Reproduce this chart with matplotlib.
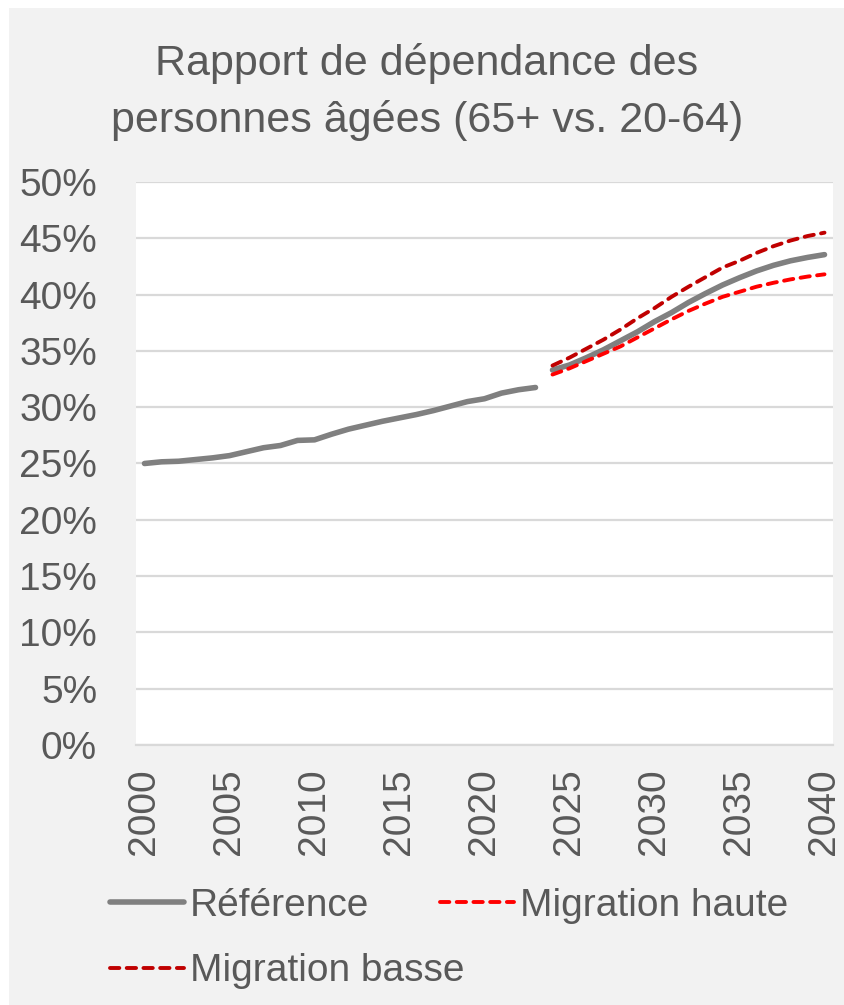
import matplotlib.pyplot as plt
from matplotlib.patches import Rectangle

# donnees (en %)
years_hist = list(range(2000, 2024))
ref_hist = [25.0, 25.15, 25.2, 25.35, 25.5, 25.7, 26.05, 26.4, 26.6, 27.05, 27.1,
            27.6, 28.05, 28.4, 28.75, 29.05, 29.35, 29.7, 30.1, 30.5, 30.75, 31.25,
            31.55, 31.75]

years_proj = list(range(2024, 2041))
ref_proj = [33.3, 33.75, 34.4, 35.1, 35.9, 36.7, 37.6, 38.4, 39.3, 40.1, 40.85,
            41.5, 42.1, 42.6, 43.0, 43.3, 43.55]
mig_haute = [32.9, 33.45, 34.1, 34.75, 35.4, 36.2, 37.0, 37.8, 38.55, 39.2, 39.8,
             40.25, 40.7, 41.05, 41.35, 41.6, 41.8]
mig_basse = [33.7, 34.4, 35.2, 36.0, 36.9, 37.9, 38.8, 39.8, 40.7, 41.55, 42.4,
             43.0, 43.7, 44.3, 44.8, 45.2, 45.5]

title = "Rapport de dépendance des\npersonnes âgées (65+ vs. 20-64)"
gris_texte = '#595959'

plt.rcParams['font.family'] = ['Liberation Sans', 'DejaVu Sans']

fig = plt.figure(figsize=(8.45, 10.05), dpi=100)
fig.patch.set_facecolor('white')
fig.patches.append(Rectangle((9 / 845, 0), 1, 1 - 8 / 1005, transform=fig.transFigure,
                             facecolor='#f2f2f2', edgecolor='none', zorder=-10))

ax = fig.add_axes([136 / 845, 1 - 745 / 1005, 697 / 845, 563 / 1005])
ax.set_facecolor('white')

tirets = (0, (2.4, 1.9))
l_ref, = ax.plot(years_hist, ref_hist, color='#808080', lw=4, solid_capstyle='round', label='Référence')
ax.plot(years_proj, ref_proj, color='#808080', lw=4, solid_capstyle='round')
l_haute, = ax.plot(years_proj, mig_haute, color='#ff0000', lw=2.8, ls=tirets,
                   dash_capstyle='round', label='Migration haute')
l_basse, = ax.plot(years_proj, mig_basse, color='#c00000', lw=2.8, ls=tirets,
                   dash_capstyle='round', label='Migration basse')

ax.set_xlim(1999.5, 2040.5)
ax.set_ylim(0, 50)
ax.set_yticks(range(0, 51, 5))
ax.set_yticklabels([f'{v}%' for v in range(0, 51, 5)])
ax.set_xticks(range(2000, 2041, 5))
ax.set_xticklabels([str(y) for y in range(2000, 2041, 5)], rotation=90)
ax.tick_params(axis='both', length=0, labelsize=28, colors=gris_texte)
ax.tick_params(axis='x', pad=17)
ax.tick_params(axis='y', pad=28)
ax.grid(axis='y', color='#d9d9d9', lw=1.6)
ax.set_axisbelow(True)
for s in ['top', 'right', 'left']:
    ax.spines[s].set_visible(False)
ax.spines['bottom'].set_color('#d9d9d9')
ax.spines['bottom'].set_linewidth(1.6)

fig.text(0.5 + 9 / 845 / 2, 1 - 92 / 1005, title, ha='center', va='center',
         fontsize=31, color=gris_texte, linespacing=1.5)

# legende: Référence et Migration basse à gauche, Migration haute à droite
opts = dict(loc='upper left', frameon=False, fontsize=28, labelcolor=gris_texte,
            handlelength=1.9, handletextpad=0.15, labelspacing=0.75, borderpad=0,
            borderaxespad=0)
leg1 = fig.legend([l_ref, l_basse], ['Référence', 'Migration basse'],
                  bbox_to_anchor=(110 / 845, 1 - 888 / 1005), **opts)
leg2 = fig.legend([l_haute], ['Migration haute'],
                  bbox_to_anchor=(440 / 845, 1 - 888 / 1005), **opts)

fig.savefig('out.png', dpi=100, facecolor=fig.get_facecolor())
